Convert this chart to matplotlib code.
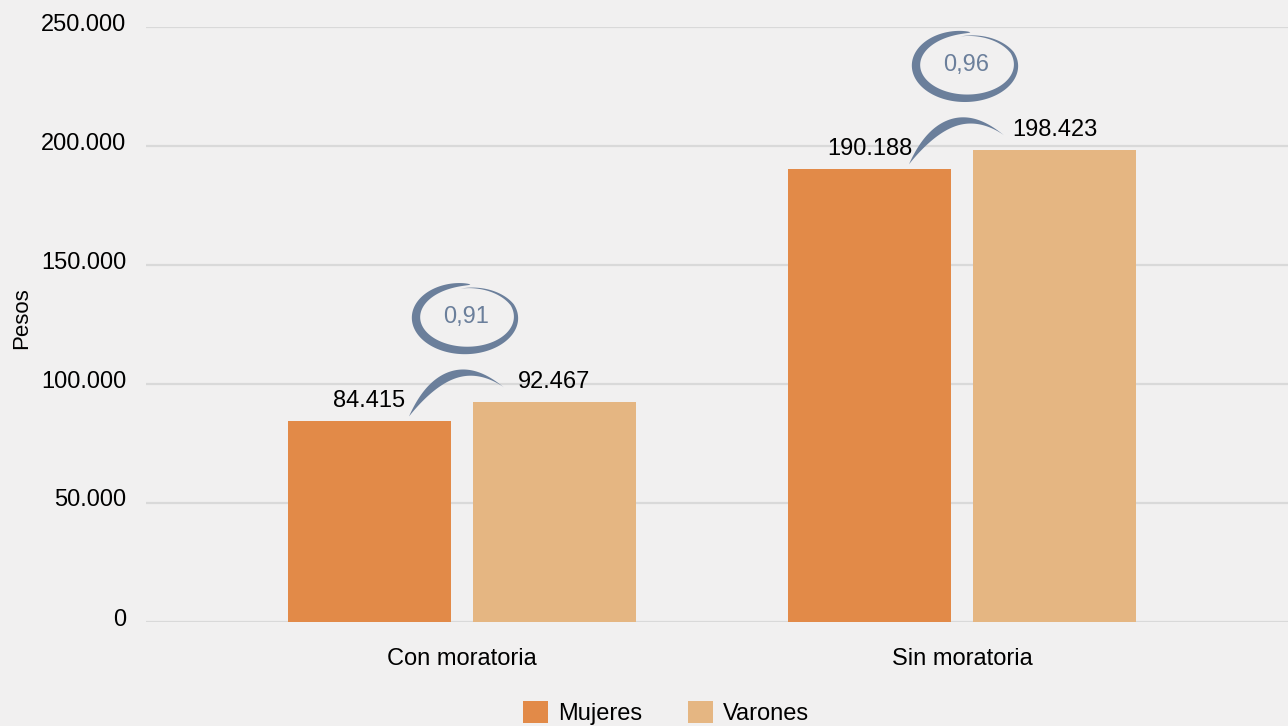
import numpy as np
import matplotlib.pyplot as plt
import matplotlib.transforms as mtransforms
from matplotlib.patches import Polygon
from matplotlib.ticker import FuncFormatter

plt.rcParams['font.family'] = ['Liberation Sans', 'DejaVu Sans']

categorias = ['Con moratoria', 'Sin moratoria']
mujeres = [84415, 190188]
varones = [92467, 198423]
ratios = ['0,91', '0,96']
yticks = [0, 50000, 100000, 150000, 200000, 250000]

bg = '#f1f0f0'
c_muj = '#e28a48'
c_var = '#e5b682'
c_bub = '#6b7f9b'

fig = plt.figure(figsize=(12.88, 7.26), dpi=100, facecolor=bg)
ax = fig.add_axes([146 / 1288, 104 / 726, 1 - 146 / 1288, 595 / 726])
ax.set_facecolor(bg)

x = np.arange(len(categorias))
w = 0.326
off = 0.185
b1 = ax.bar(x - off, mujeres, w, color=c_muj, label='Mujeres', zorder=3)
b2 = ax.bar(x + off, varones, w, color=c_var, label='Varones', zorder=3)

fmt = lambda v: f'{int(v):,}'.replace(',', '.')
for bars, vals in [(b1, mujeres), (b2, varones)]:
    for r, v in zip(bars, vals):
        ax.annotate(fmt(v), (r.get_x() + r.get_width() / 2, v), xytext=(0, 10),
                    textcoords='offset points', ha='center', va='baseline',
                    fontsize=17, color='black', zorder=4)

ax.set_ylim(0, 250000)
ax.set_xlim(-0.632, 1.652)
ax.set_yticks(yticks)
ax.yaxis.set_major_formatter(FuncFormatter(lambda v, p: fmt(v)))
ax.grid(axis='y', color='#d9d9d9', linewidth=1.6, zorder=0)
for s in ax.spines.values():
    s.set_visible(False)
ax.tick_params(axis='y', length=0, pad=14, labelsize=17)
ax.tick_params(axis='x', length=0, pad=19, labelsize=17)
ax.set_xticks(x)
ax.set_xticklabels(categorias)
# y labels sit a little above their gridlines
shift = mtransforms.ScaledTranslation(0, 0.05, fig.dpi_scale_trans)
for lbl in ax.get_yticklabels():
    lbl.set_transform(lbl.get_transform() + shift)

fig.text(22 / 1288, 1 - 318 / 726, 'Pesos', rotation=90, ha='center', va='center',
         fontsize=16)


def ring_shape():
    th = np.linspace(np.radians(85), np.radians(457), 300)
    t = (th - th[0]) / (th[-1] - th[0])
    wd = 8.5 * np.sin(np.pi * t ** 0.6)
    shrink = 1 - 0.12 * np.clip((t - 0.8) / 0.2, 0, 1)
    a, b = 50 * shrink, 33 * shrink
    outer = np.column_stack([(a + wd / 2) * np.cos(th), (b + wd / 2) * np.sin(th)])
    inner = np.column_stack([(a - wd / 2) * np.cos(th), (b - wd / 2) * np.sin(th)])
    return np.vstack([outer, inner[::-1]])


def swoosh_shape():
    p0, p1, p2 = np.array([-57, -99]), np.array([-15, -30]), np.array([38, -70])
    t = np.linspace(0, 1, 120)[:, None]
    pts = (1 - t) ** 2 * p0 + 2 * (1 - t) * t * p1 + t ** 2 * p2
    d = 2 * (1 - t) * (p1 - p0) + 2 * t * (p2 - p1)
    n = np.column_stack([-d[:, 1], d[:, 0]]) / np.linalg.norm(d, axis=1)[:, None]
    wd = 8.5 * np.sin(np.pi * t[:, 0] ** 0.75) ** 1.3
    return np.vstack([pts + n * wd[:, None] / 2, (pts - n * wd[:, None] / 2)[::-1]])


for xi, v, r in zip(x, varones, ratios):
    cx, cy = xi + 0.008, v + 35500
    tr = (mtransforms.Affine2D().scale(0.01) + fig.dpi_scale_trans
          + mtransforms.ScaledTranslation(cx, cy, ax.transData))
    for shp in (ring_shape(), swoosh_shape()):
        ax.add_patch(Polygon(shp, closed=True, facecolor=c_bub, edgecolor='none',
                             transform=tr, clip_on=False, zorder=5))
    ax.text(cx, cy, r, ha='center', va='center', fontsize=17, color=c_bub, zorder=6)

fig.legend(handles=[b1, b2], loc='center', bbox_to_anchor=(666 / 1288, 1 - 713 / 726),
           ncol=2, frameon=False, fontsize=17, handlelength=1.06, handleheight=1.06,
           handletextpad=0.42, columnspacing=1.95)

fig.savefig('out.png', dpi=100, facecolor=bg)
